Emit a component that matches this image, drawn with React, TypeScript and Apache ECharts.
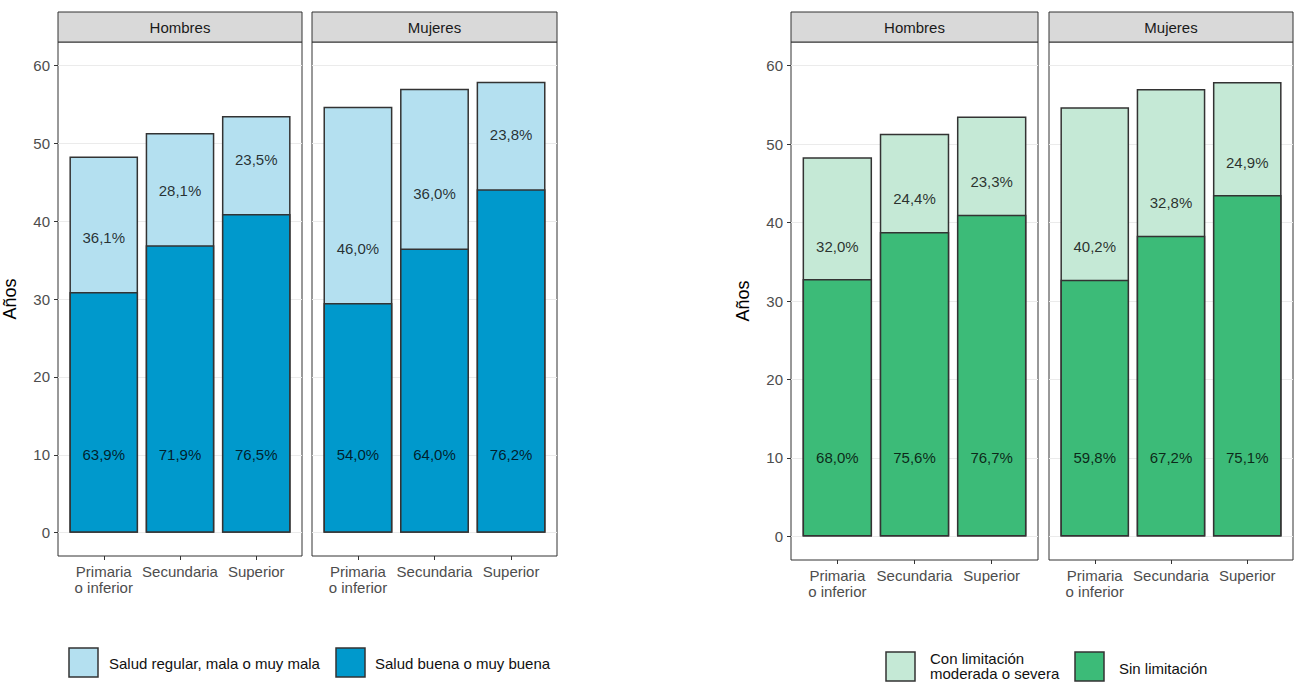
import React, { useEffect, useRef } from 'react';
import * as echarts from 'echarts';

// ---------- Data ----------
const categories = ['Primaria\no inferior', 'Secundaria', 'Superior'];
const facets = ['Hombres', 'Mujeres'];
const yTicks = [0, 10, 20, 30, 40, 50, 60];

// Total years (bar height)
const totalHombres = [48.3, 51.3, 53.5];
const totalMujeres = [54.7, 57.0, 57.9];

// Chart 1: salud autopercibida
const saludBuenaHombres = [30.9, 36.9, 40.9];
const saludBuenaMujeres = [29.5, 36.5, 44.1];
const pctBuenaHombres = [63.9, 71.9, 76.5];
const pctMalaHombres = [36.1, 28.1, 23.5];
const pctBuenaMujeres = [54.0, 64.0, 76.2];
const pctMalaMujeres = [46.0, 36.0, 23.8];

// Chart 2: limitación de la actividad
const sinLimHombres = [32.8, 38.8, 41.0];
const sinLimMujeres = [32.7, 38.3, 43.5];
const pctSinHombres = [68.0, 75.6, 76.7];
const pctConHombres = [32.0, 24.4, 23.3];
const pctSinMujeres = [59.8, 67.2, 75.1];
const pctConMujeres = [40.2, 32.8, 24.9];

// ---------- Styles ----------
const FONT = '"Liberation Sans", Arial, Helvetica, sans-serif';
const BORDER = '#333333';
const DARK_BLUE = '#0099CC';
const LIGHT_BLUE = '#B4E0F0';
const DARK_GREEN = '#3CBB78';
const LIGHT_GREEN = '#C5E9D6';

const fmt = (v: number) => v.toFixed(1).replace('.', ',') + '%';

const panels = [
  { left: 58, top: 42, width: 244, height: 514, facet: facets[0], total: totalHombres, low: saludBuenaHombres, pLow: pctBuenaHombres, pHigh: pctMalaHombres, lowColor: DARK_BLUE, highColor: LIGHT_BLUE, lowName: 'Salud buena o muy buena', highName: 'Salud regular, mala o muy mala', offset: 7, showY: true },
  { left: 312, top: 42, width: 245, height: 514, facet: facets[1], total: totalMujeres, low: saludBuenaMujeres, pLow: pctBuenaMujeres, pHigh: pctMalaMujeres, lowColor: DARK_BLUE, highColor: LIGHT_BLUE, lowName: 'Salud buena o muy buena', highName: 'Salud regular, mala o muy mala', offset: 7, showY: false },
  { left: 791, top: 42, width: 247, height: 518, facet: facets[0], total: totalHombres, low: sinLimHombres, pLow: pctSinHombres, pHigh: pctConHombres, lowColor: DARK_GREEN, highColor: LIGHT_GREEN, lowName: 'Sin limitación', highName: 'Con limitación moderada o severa', offset: 4.2, showY: true },
  { left: 1049, top: 42, width: 244, height: 518, facet: facets[1], total: totalMujeres, low: sinLimMujeres, pLow: pctSinMujeres, pHigh: pctConMujeres, lowColor: DARK_GREEN, highColor: LIGHT_GREEN, lowName: 'Sin limitación', highName: 'Con limitación moderada o severa', offset: 4.2, showY: false },
];

function buildOption() {
  const grid = panels.map((p) => ({
    left: p.left, top: p.top, width: p.width, height: p.height,
    show: true, borderColor: BORDER, borderWidth: 1, backgroundColor: '#ffffff',
    containLabel: false, outerBoundsMode: 'none',
  }));

  const xAxis = panels.map((p, i) => ({
    type: 'value', gridIndex: i, min: 0.4, max: 3.6,
    axisLine: { show: false, onZero: false },
    axisTick: { show: true, length: 4, customValues: [1, 2, 3], lineStyle: { color: BORDER, width: 1 } },
    axisLabel: {
      show: true, customValues: [1, 2, 3],
      formatter: (v: number) => categories[Math.round(v) - 1] ?? '',
      color: '#4D4D4D', fontSize: 15, lineHeight: 16, margin: 7, fontFamily: FONT,
    },
    splitLine: { show: false },
  }));

  const yAxis = panels.map((p, i) => ({
    type: 'value', gridIndex: i, min: -3, max: 63,
    axisLine: { show: false },
    axisTick: { show: p.showY, length: 4, customValues: yTicks, lineStyle: { color: BORDER, width: 1 } },
    axisLabel: { show: p.showY, customValues: yTicks, color: '#4D4D4D', fontSize: 15, margin: 8, fontFamily: FONT },
    splitLine: { show: true, lineStyle: { color: '#EBEBEB', width: 1 } },
    name: p.showY ? 'Años' : '',
    nameLocation: 'middle', nameGap: 39,
    nameTextStyle: { fontSize: 18, color: '#000000', fontFamily: FONT },
  }));

  const series: any[] = [];
  panels.forEach((p, i) => {
    const bw = (0.9 * p.width) / 3.2;
    series.push({
      type: 'bar', name: p.highName, xAxisIndex: i, yAxisIndex: i,
      barWidth: bw, barGap: '-100%', silent: true,
      data: categories.map((_, k) => [k + 1, p.total[k]]),
      itemStyle: { color: p.highColor, borderColor: BORDER, borderWidth: 1.5 },
      z: 2,
    });
    series.push({
      type: 'bar', name: p.lowName, xAxisIndex: i, yAxisIndex: i,
      barWidth: bw, barGap: '-100%', silent: true,
      data: categories.map((_, k) => [k + 1, p.low[k]]),
      itemStyle: { color: p.lowColor, borderColor: BORDER, borderWidth: 1.5 },
      z: 3,
    });
    const n = categories.length;
    series.push({
      type: 'scatter', xAxisIndex: i, yAxisIndex: i, silent: true,
      symbolSize: 1, itemStyle: { color: 'rgba(0,0,0,0)' },
      data: [
        ...p.low.map((v, k) => [k + 1, v + p.offset]),
        ...p.low.map((_, k) => [k + 1, 10]),
      ],
      label: {
        show: true, position: 'inside',
        formatter: (params: any) => {
          const idx = params.dataIndex;
          return idx < n ? fmt(p.pHigh[idx]) : fmt(p.pLow[idx - n]);
        },
        fontSize: 15, color: '#000000', fontFamily: FONT,
      },
      z: 10,
    });
  });

  const graphic: any[] = [];
  panels.forEach((p) => {
    graphic.push({
      type: 'rect', shape: { x: p.left, y: 12, width: p.width, height: 30 },
      style: { fill: '#D9D9D9', stroke: BORDER, lineWidth: 1 }, silent: true,
    });
    graphic.push({
      type: 'text', x: p.left + p.width / 2, y: 27,
      style: { text: p.facet, fill: '#1A1A1A', fontSize: 15, fontFamily: FONT, align: 'center', verticalAlign: 'middle' },
      silent: true,
    });
  });

  const legendItems = [
    { x: 69, y: 648, color: LIGHT_BLUE, text: panels[0].highName, tx: 109, ty: 663, lh: 16 },
    { x: 336, y: 648, color: DARK_BLUE, text: panels[0].lowName, tx: 375, ty: 663, lh: 16 },
    { x: 886, y: 652, color: LIGHT_GREEN, text: 'Con limitación\nmoderada o severa', tx: 930, ty: 666, lh: 15 },
    { x: 1075, y: 652, color: DARK_GREEN, text: panels[2].lowName, tx: 1119, ty: 668, lh: 16 },
  ];
  legendItems.forEach((it) => {
    graphic.push({
      type: 'rect', shape: { x: it.x, y: it.y, width: 29, height: 29 },
      style: { fill: it.color, stroke: BORDER, lineWidth: 1.5 }, silent: true,
    });
    graphic.push({
      type: 'text', x: it.tx, y: it.ty,
      style: { text: it.text, fill: '#111111', fontSize: 15, lineHeight: it.lh, fontFamily: FONT, align: 'left', verticalAlign: 'middle' },
      silent: true,
    });
  });

  return {
    animation: false,
    backgroundColor: '#ffffff',
    textStyle: { fontFamily: FONT },
    grid, xAxis, yAxis, series, graphic,
  };
}

export default function App() {
  const ref = useRef<HTMLDivElement>(null);
  useEffect(() => {
    if (!ref.current) return;
    const chart = echarts.init(ref.current, null, { renderer: 'svg' });
    chart.setOption(buildOption() as any);
    return () => chart.dispose();
  }, []);
  return (
    <div
      ref={ref}
      style={{ position: 'fixed', left: 0, top: 0, width: '1295px', height: '682px', background: '#fff' }}
    />
  );
}
